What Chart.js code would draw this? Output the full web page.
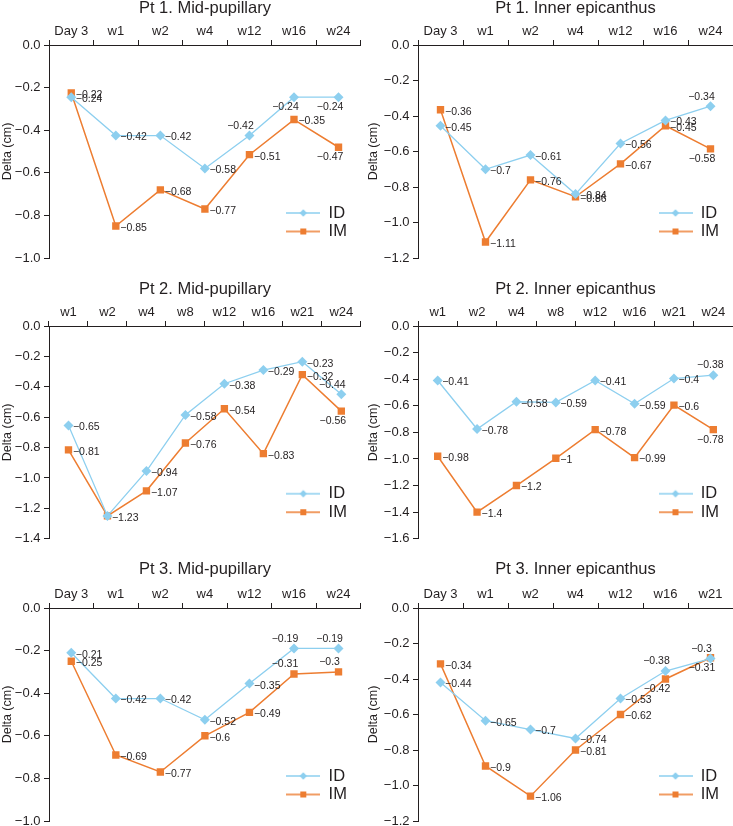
<!DOCTYPE html>
<html><head><meta charset="utf-8">
<script src="https://cdn.jsdelivr.net/npm/chart.js@4/dist/chart.umd.min.js"></script>
<style>
html,body{margin:0;padding:0;width:733px;height:826px;overflow:hidden;background:#fff;position:relative;}
.p{position:absolute;}
canvas{display:block;}
</style></head><body>
<div class="p" style="left:0;top:0"><canvas id="c1" width="366" height="275"></canvas></div>
<div class="p" style="left:366px;top:0"><canvas id="c2" width="380" height="275"></canvas></div>
<div class="p" style="left:0;top:275px"><canvas id="c3" width="366" height="275"></canvas></div>
<div class="p" style="left:366px;top:275px"><canvas id="c4" width="380" height="275"></canvas></div>
<div class="p" style="left:0;top:550px"><canvas id="c5" width="366" height="300"></canvas></div>
<div class="p" style="left:366px;top:550px"><canvas id="c6" width="380" height="300"></canvas></div>
<script>
// ---------- data ----------
const seriesNames = ['ID', 'IM'];
const yAxisLabel = 'Delta (cm)';

const pt1Categories = ['Day 3', 'w1', 'w2', 'w4', 'w12', 'w16', 'w24'];
const pt2Categories = ['w1', 'w2', 'w4', 'w8', 'w12', 'w16', 'w21', 'w24'];
const pt3MidCategories = ['Day 3', 'w1', 'w2', 'w4', 'w12', 'w16', 'w24'];
const pt3InnerCategories = ['Day 3', 'w1', 'w2', 'w4', 'w12', 'w16', 'w21'];

// Pt 1. Mid-pupillary
const pt1MidID = [-0.245, -0.425, -0.425, -0.58, -0.425, -0.245, -0.245];
const pt1MidIM = [-0.225, -0.85, -0.68, -0.77, -0.515, -0.35, -0.48];
const pt1MidIDLabels = ['−0.24', '−0.42', '−0.42', '−0.58', '−0.42', '−0.24', '−0.24'];
const pt1MidIMLabels = ['−0.22', '−0.85', '−0.68', '−0.77', '−0.51', '−0.35', '−0.47'];

// Pt 1. Inner epicanthus
const pt1InnerID = [-0.455, -0.70, -0.62, -0.84, -0.555, -0.425, -0.345];
const pt1InnerIM = [-0.365, -1.11, -0.76, -0.855, -0.67, -0.455, -0.585];
const pt1InnerIDLabels = ['−0.45', '−0.7', '−0.61', '−0.84', '−0.56', '−0.43', '−0.34'];
const pt1InnerIMLabels = ['−0.36', '−1.11', '−0.76', '−0.86', '−0.67', '−0.45', '−0.58'];

// Pt 2. Mid-pupillary
const pt2MidID = [-0.655, -1.25, -0.955, -0.585, -0.38, -0.29, -0.235, -0.45];
const pt2MidIM = [-0.815, -1.25, -1.085, -0.77, -0.545, -0.84, -0.32, -0.56];
const pt2MidIDLabels = ['−0.65', '−1.23', '−0.94', '−0.58', '−0.38', '−0.29', '−0.23', '−0.44'];
const pt2MidIMLabels = ['−0.81', '', '−1.07', '−0.76', '−0.54', '−0.83', '−0.32', '−0.56'];

// Pt 2. Inner epicanthus
const pt2InnerID = [-0.41, -0.775, -0.57, -0.575, -0.41, -0.585, -0.395, -0.37];
const pt2InnerIM = [-0.98, -1.40, -1.20, -0.995, -0.78, -0.99, -0.595, -0.78];
const pt2InnerIDLabels = ['−0.41', '−0.78', '−0.58', '−0.59', '−0.41', '−0.59', '−0.4', '−0.38'];
const pt2InnerIMLabels = ['−0.98', '−1.4', '−1.2', '−1', '−0.78', '−0.99', '−0.6', '−0.78'];

// Pt 3. Mid-pupillary
const pt3MidID = [-0.21, -0.425, -0.425, -0.525, -0.355, -0.19, -0.19];
const pt3MidIM = [-0.25, -0.69, -0.77, -0.60, -0.49, -0.31, -0.30];
const pt3MidIDLabels = ['−0.21', '−0.42', '−0.42', '−0.52', '−0.35', '−0.19', '−0.19'];
const pt3MidIMLabels = ['−0.25', '−0.69', '−0.77', '−0.6', '−0.49', '−0.31', '−0.3'];

// Pt 3. Inner epicanthus
const pt3InnerID = [-0.42, -0.635, -0.685, -0.735, -0.51, -0.355, -0.285];
const pt3InnerIM = [-0.315, -0.89, -1.06, -0.80, -0.60, -0.40, -0.28];
const pt3InnerIDLabels = ['−0.44', '−0.65', '−0.7', '−0.74', '−0.53', '−0.38', '−0.3'];
const pt3InnerIMLabels = ['−0.34', '−0.9', '−1.06', '−0.81', '−0.62', '−0.42', '−0.31'];

// ---------- styling ----------
const TEXT = '#231f20';
const BLUE = '#8dcfef';
const ORANGE = '#ed7d31';
const FONT = '"Liberation Sans", Arial, Helvetica, sans-serif';

// label placement codes (r = right, al = above-left, bl = below-left, a = above, b = below)
const R7 = ['r','r','r','r','r','r','r'];
const place = {
  p1: { id: ['r','r','r','r','al','bl','bl'], im: ['r','r','r','r','r','r','bl'] },
  p2: { id: ['r','r','r','r','r','r','al'], im: ['r','r','r','r','r','r','bl'] },
  p3: { id: R7.concat(['al']), im: R7.concat(['bl']) },
  p4: { id: R7.concat(['a']), im: R7.concat(['b']) },
  p5: { id: ['r','r','r','r','r','al','al'], im: ['r','r','r','r','r','al','al'] },
  p6: { id: ['r','r','r','r','r','al','al'], im: ['r','r','r','r','r','bl','bl'] }
};
const OFFS = { r: [4.5, 2, 'left'], al: [-9, -9.5, 'center'], bl: [-8.5, 10, 'center'], a: [-3, -10.5, 'center'], b: [-3, 10.5, 'center'] };

function legendIcon(color, kind) {
  const c = document.createElement('canvas');
  c.width = 34; c.height = 12;
  const g = c.getContext('2d');
  g.strokeStyle = color; g.lineWidth = 1.5;
  g.beginPath(); g.moveTo(0, 6); g.lineTo(34, 6); g.stroke();
  g.fillStyle = color;
  if (kind === 'diamond') {
    g.beginPath(); g.moveTo(17, 2.3); g.lineTo(20.7, 6); g.lineTo(17, 9.7); g.lineTo(13.3, 6); g.closePath(); g.fill();
  } else {
    g.fillRect(14, 3, 6, 6);
  }
  return c;
}
const iconID = legendIcon(BLUE, 'diamond');
const iconIM = legendIcon(ORANGE, 'square');

const pointLabelPlugin = {
  id: 'pointLabels',
  afterDatasetsDraw(chart) {
    const ctx = chart.ctx;
    ctx.save();
    ctx.font = '10.5px ' + FONT;
    ctx.fillStyle = TEXT;
    ctx.textBaseline = 'middle';
    chart.data.datasets.forEach((ds, di) => {
      const meta = chart.getDatasetMeta(di);
      meta.data.forEach((pt, i) => {
        const txt = ds.valueLabels[i];
        if (!txt) return;
        const o = OFFS[ds.labelPlace[i]];
        ctx.textAlign = o[2];
        ctx.fillText(txt, pt.x + o[0], pt.y + o[1]);
      });
    });
    ctx.restore();
  }
};

const legendMovePlugin = {
  id: 'legendMove',
  afterLayout(chart) {
    const lg = chart.legend, ca = chart.chartArea;
    if (!lg) return;
    const w = lg.width;
    lg.left = ca.right - 74.5 - 2;
    lg.right = lg.left + w;
    lg.top = ca.bottom - 45 - 10.25;
    lg.bottom = lg.top + 60;
    lg.height = 60;
  }
};

function fmtTick(v) {
  const s = Math.abs(v).toFixed(1);
  return (v < -1e-9 ? '\u2212' : '') + s;
}

function makePanel(o) {
  new Chart(document.getElementById(o.canvas), {
    type: 'line',
    data: {
      labels: o.categories,
      datasets: [
        { label: seriesNames[0], data: o.id, valueLabels: o.idLabels, labelPlace: o.idPlace,
          borderColor: BLUE, backgroundColor: BLUE, borderWidth: 1.3, tension: 0, fill: false,
          pointStyle: 'rectRot', pointRadius: 5, pointHoverRadius: 5,
          pointBackgroundColor: BLUE, pointBorderColor: BLUE, pointBorderWidth: 0 },
        { label: seriesNames[1], data: o.im, valueLabels: o.imLabels, labelPlace: o.imPlace,
          borderColor: ORANGE, backgroundColor: ORANGE, borderWidth: 1.5, tension: 0, fill: false,
          pointStyle: 'rect', pointRadius: 5.2, pointHoverRadius: 5.2,
          pointBackgroundColor: ORANGE, pointBorderColor: ORANGE, pointBorderWidth: 0 }
      ]
    },
    options: {
      responsive: false,
      animation: false,
      layout: { padding: { left: 0, top: 0, right: o.padRight, bottom: o.padBottom } },
      plugins: {
        tooltip: { enabled: false },
        title: { display: true, text: o.title, color: TEXT, fullSize: false,
          font: { family: FONT, size: 16.5, weight: 'normal', lineHeight: 1 },
          padding: { top: o.titleTop, bottom: 0 } },
        legend: {
          display: true, position: 'chartArea', align: 'start',
          labels: {
            usePointStyle: true, pointStyleWidth: 34, padding: 2, color: TEXT,
            font: { family: FONT, size: 16.5 },
            generateLabels: () => [
              { text: seriesNames[0], pointStyle: iconID, fillStyle: BLUE, strokeStyle: BLUE, lineWidth: 0, hidden: false, datasetIndex: 0, fontColor: TEXT },
              { text: seriesNames[1], pointStyle: iconIM, fillStyle: ORANGE, strokeStyle: ORANGE, lineWidth: 0, hidden: false, datasetIndex: 1, fontColor: TEXT }
            ]
          }
        }
      },
      scales: {
        x: {
          type: 'category', position: 'top', offset: true,
          grid: { offset: true, drawOnChartArea: false, drawTicks: true, tickLength: 5, color: TEXT, lineWidth: 1 },
          border: { display: true, color: TEXT, width: 1 },
          ticks: { color: TEXT, font: { family: FONT, size: 13 }, padding: 0.5, maxRotation: 0, autoSkip: false },
          afterFit(s) { s.height = o.xAxisHeight; }
        },
        y: {
          type: 'linear', min: o.yMin, max: 0,
          grid: { drawOnChartArea: false, drawTicks: true, tickLength: 5, color: TEXT, lineWidth: 1 },
          border: { display: true, color: TEXT, width: 1 },
          ticks: { stepSize: 0.2, color: TEXT, font: { family: FONT, size: 13 }, padding: 3.5, callback: fmtTick },
          title: { display: true, text: yAxisLabel, color: TEXT, font: { family: FONT, size: 12.5 }, padding: 0 },
          afterFit(s) { s.width = o.yAxisWidth; }
        }
      }
    },
    plugins: [pointLabelPlugin, legendMovePlugin]
  });
}

makePanel({ canvas: 'c1', title: 'Pt 1. Mid-pupillary', categories: pt1Categories,
  id: pt1MidID, im: pt1MidIM, idLabels: pt1MidIDLabels, imLabels: pt1MidIMLabels,
  idPlace: place.p1.id, imPlace: place.p1.im, yMin: -1.0,
  yAxisWidth: 49, titleTop: 0, xAxisHeight: 28.5, padRight: 3, padBottom: 17 });
makePanel({ canvas: 'c2', title: 'Pt 1. Inner epicanthus', categories: pt1Categories,
  id: pt1InnerID, im: pt1InnerIM, idLabels: pt1InnerIDLabels, imLabels: pt1InnerIMLabels,
  idPlace: place.p2.id, imPlace: place.p2.im, yMin: -1.2,
  yAxisWidth: 52, titleTop: 0, xAxisHeight: 28.5, padRight: 13, padBottom: 17 });
makePanel({ canvas: 'c3', title: 'Pt 2. Mid-pupillary', categories: pt2Categories,
  id: pt2MidID, im: pt2MidIM, idLabels: pt2MidIDLabels, imLabels: pt2MidIMLabels,
  idPlace: place.p3.id, imPlace: place.p3.im, yMin: -1.4,
  yAxisWidth: 49, titleTop: 5.75, xAxisHeight: 28.75, padRight: 3, padBottom: 10 });
makePanel({ canvas: 'c4', title: 'Pt 2. Inner epicanthus', categories: pt2Categories,
  id: pt2InnerID, im: pt2InnerIM, idLabels: pt2InnerIDLabels, imLabels: pt2InnerIMLabels,
  idPlace: place.p4.id, imPlace: place.p4.im, yMin: -1.6,
  yAxisWidth: 52, titleTop: 5.75, xAxisHeight: 28.75, padRight: 13, padBottom: 10 });
makePanel({ canvas: 'c5', title: 'Pt 3. Mid-pupillary', categories: pt3MidCategories,
  id: pt3MidID, im: pt3MidIM, idLabels: pt3MidIDLabels, imLabels: pt3MidIMLabels,
  idPlace: place.p5.id, imPlace: place.p5.im, yMin: -1.0,
  yAxisWidth: 49, titleTop: 11, xAxisHeight: 30.5, padRight: 3, padBottom: 29 });
makePanel({ canvas: 'c6', title: 'Pt 3. Inner epicanthus', categories: pt3InnerCategories,
  id: pt3InnerID, im: pt3InnerIM, idLabels: pt3InnerIDLabels, imLabels: pt3InnerIMLabels,
  idPlace: place.p6.id, imPlace: place.p6.im, yMin: -1.2,
  yAxisWidth: 52, titleTop: 11, xAxisHeight: 30.5, padRight: 13, padBottom: 29 });
</script>
</body></html>
